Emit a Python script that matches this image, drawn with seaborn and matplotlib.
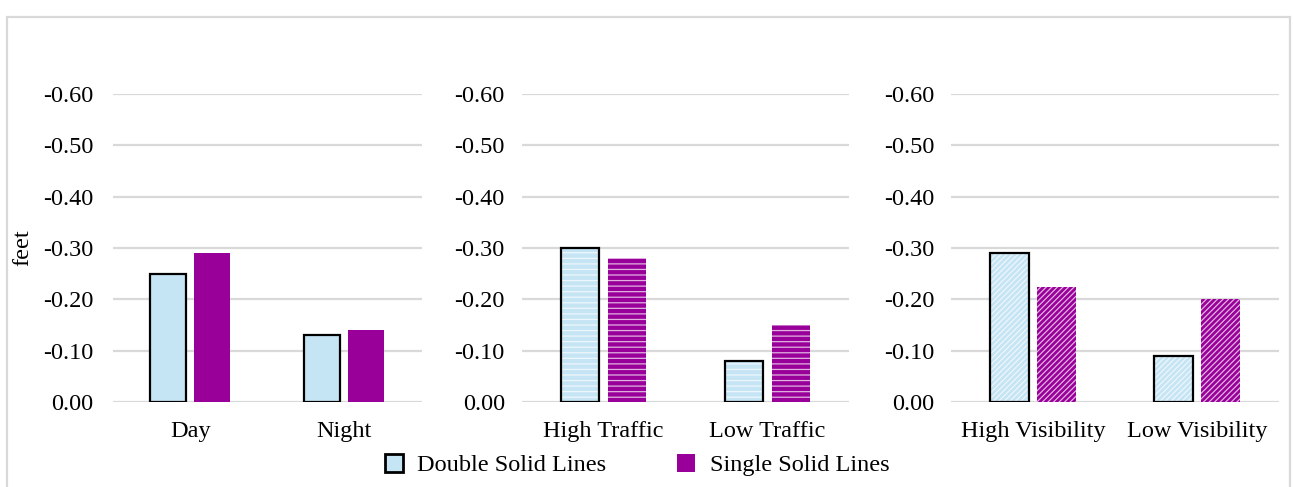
import matplotlib
matplotlib.use("Agg")
import matplotlib.pyplot as plt
from matplotlib.patches import Patch, Rectangle
from matplotlib.ticker import FixedLocator, FuncFormatter
import pandas as pd
import seaborn as sns

# Lateral shift (feet) by condition for the two centre-line treatments
series = ["Double Solid Lines", "Single Solid Lines"]

light_cats = ["Day", "Night"]
light_double = [-0.25, -0.13]
light_single = [-0.29, -0.14]

traffic_cats = ["High Traffic", "Low Traffic"]
traffic_double = [-0.30, -0.08]
traffic_single = [-0.28, -0.15]

vis_cats = ["High Visibility", "Low Visibility"]
vis_double = [-0.29, -0.09]
vis_single = [-0.225, -0.20]

y_ticks = [0.0, -0.1, -0.2, -0.3, -0.4, -0.5, -0.6]

BLUE = "#C5E4F4"
PURPLE = "#990099"
GRID = "#D9D9D9"

sns.set_theme(style="white")
plt.rcParams["font.family"] = ["Liberation Serif", "DejaVu Serif"]
plt.rcParams["hatch.linewidth"] = 0.9
FS = 17.5

W, H = 1294, 487
fig = plt.figure(figsize=(W / 100, H / 100), dpi=100)
fig.patch.set_facecolor("white")

panels = [
    (light_cats, light_double, light_single, None, (113, 421.5), 14),
    (traffic_cats, traffic_double, traffic_single, "---", (521.5, 849.5), 12),
    (vis_cats, vis_double, vis_single, "//////", (951, 1279), 12),
]

top_px, bot_px = 94, 402
for cats, dbl, sgl, hatch, (x0, x1), pad in panels:
    ax = fig.add_axes([x0 / W, 1 - bot_px / H, (x1 - x0) / W, (bot_px - top_px) / H])
    df = pd.DataFrame({
        "cond": cats * 2,
        "value": dbl + sgl,
        "series": [series[0]] * len(cats) + [series[1]] * len(cats),
    })
    ax.set_axisbelow(True)
    sns.barplot(data=df, x="cond", y="value", hue="series", order=cats,
                hue_order=series, palette=[BLUE, PURPLE], saturation=1,
                width=0.57, gap=0.18, errorbar=None, legend=False, ax=ax)

    for ci, cont in enumerate(ax.containers):
        for bar in cont:
            bar.set_linewidth(0)
            if hatch:
                bar.set_hatch(hatch)
                bar.set_edgecolor((1, 1, 1, 0.7))
                bar.set_linewidth(0)
            if ci == 0:
                ax.add_patch(Rectangle(bar.get_xy(), bar.get_width(), bar.get_height(),
                                       facecolor="none", edgecolor="black",
                                       linewidth=1.6, zorder=bar.get_zorder() + 0.1))

    ax.set_xlim(-0.5, len(cats) - 0.5)
    ax.set_ylim(0, -0.6)
    ax.yaxis.set_major_locator(FixedLocator(y_ticks))
    ax.yaxis.set_major_formatter(FuncFormatter(lambda v, p: f"{abs(v):.2f}" if abs(v) < 1e-9 else f"{v:.2f}"))
    ax.grid(axis="y", color=GRID, linewidth=1.6)
    ax.grid(axis="x", visible=False)
    for s in ax.spines.values():
        s.set_visible(False)
    ax.tick_params(axis="y", length=0, pad=pad, labelsize=FS, labelcolor="black")
    ax.tick_params(axis="x", length=0, pad=14, labelsize=FS, labelcolor="black")
    ax.set_xlabel("")
    ax.set_ylabel("")

fig.text(23 / W, 1 - 248 / H, "feet", rotation=90, ha="center", va="center",
         fontsize=FS, color="black")

handles = [Patch(facecolor=BLUE, edgecolor="black", linewidth=2.0, label=series[0]),
           Patch(facecolor=PURPLE, edgecolor=PURPLE, linewidth=0, label=series[1])]
fig.legend(handles=handles, loc="center", bbox_to_anchor=(637 / W, 1 - 465 / H),
           ncol=2, frameon=False, fontsize=FS, handlelength=0.75, handleheight=0.75,
           handletextpad=0.6, columnspacing=2.9, borderpad=0, labelcolor="black")

# outer chart frame
fig.add_artist(Rectangle((7 / W, -0.2), (1290 - 7) / W, 1.2 - 17 / H,
                         transform=fig.transFigure, facecolor="none",
                         edgecolor=GRID, linewidth=1.6, clip_on=False))

fig.savefig("out.png", dpi=100, facecolor="white")
